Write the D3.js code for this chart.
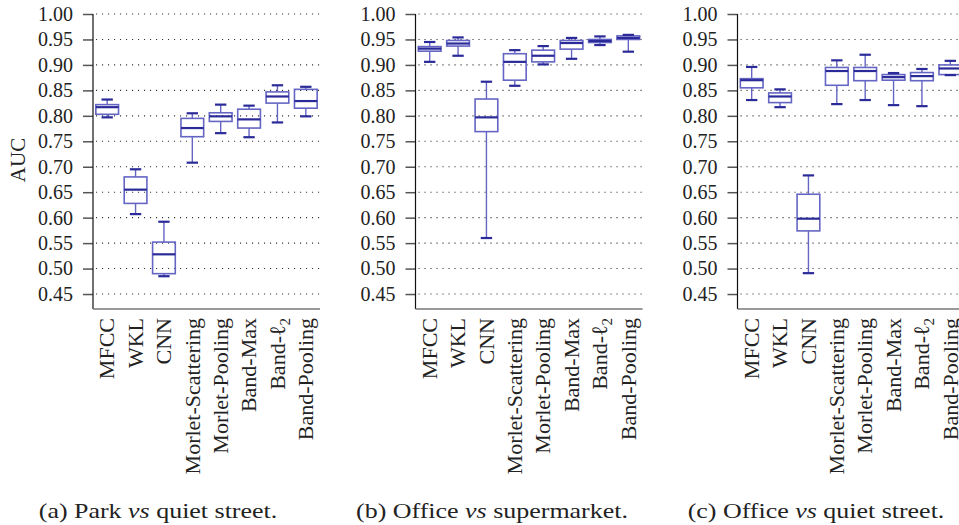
<!DOCTYPE html>
<html>
<head>
<meta charset="utf-8">
<script src="https://cdn.jsdelivr.net/npm/d3@7"></script>
<style>
  body { margin: 0; background: #fff; }
  text { font-family: "Liberation Serif", "DejaVu Serif", serif; fill: #222; }
</style>
</head>
<body>
<div class="chart"></div>
<script>
// categories on the x axis (same for all three panels)
var categories = ["MFCC", "WKL", "CNN", "Morlet-Scattering", "Morlet-Pooling", "Band-Max", "Band-l2", "Band-Pooling"];

// y tick values
var yTicks = [0.45, 0.50, 0.55, 0.60, 0.65, 0.70, 0.75, 0.80, 0.85, 0.90, 0.95, 1.00];

// box stats per category: [whisker low, q1, median, q3, whisker high]
var parkVsStreet = [
  [0.797, 0.803, 0.817, 0.822, 0.832],
  [0.607, 0.628, 0.655, 0.680, 0.695],
  [0.485, 0.490, 0.528, 0.552, 0.592],
  [0.708, 0.759, 0.776, 0.795, 0.805],
  [0.766, 0.789, 0.799, 0.806, 0.822],
  [0.758, 0.776, 0.793, 0.813, 0.820],
  [0.787, 0.825, 0.838, 0.847, 0.860],
  [0.799, 0.815, 0.829, 0.852, 0.857]
];

var officeVsSupermarket = [
  [0.906, 0.927, 0.932, 0.936, 0.945],
  [0.918, 0.937, 0.942, 0.948, 0.954],
  [0.560, 0.769, 0.797, 0.833, 0.867],
  [0.859, 0.870, 0.906, 0.922, 0.929],
  [0.901, 0.906, 0.918, 0.929, 0.937],
  [0.912, 0.931, 0.943, 0.948, 0.953],
  [0.939, 0.944, 0.947, 0.950, 0.956],
  [0.926, 0.950, 0.953, 0.957, 0.959]
];

var officeVsStreet = [
  [0.831, 0.855, 0.870, 0.873, 0.896],
  [0.817, 0.826, 0.838, 0.845, 0.852],
  [0.491, 0.574, 0.598, 0.646, 0.683],
  [0.823, 0.860, 0.888, 0.895, 0.909],
  [0.831, 0.869, 0.888, 0.895, 0.920],
  [0.821, 0.870, 0.876, 0.881, 0.884],
  [0.819, 0.869, 0.878, 0.885, 0.892],
  [0.880, 0.881, 0.893, 0.900, 0.908]
];

var captions = ["(a) Park ", "(b) Office ", "(c) Office "];
var captionEnds = [" quiet street.", " supermarket.", " quiet street."];

var svgWidth = 959;
var svgHeight = 525;

var panelLeft = [93, 415.5, 737.5];
var panelWidth = 227;
var plotTop = 14;
var plotBottom = 309;
var captionX = [158, 492, 816];

var boxColor = "#6565c4";
var darkColor = "#2a2a98";
var serif = "'Liberation Serif', 'DejaVu Serif', serif";

var svg = d3.select(".chart")
  .append("svg")
  .attr("width", svgWidth)
  .attr("height", svgHeight)
  .attr("font-family", serif);

// y scale: 0.45 tick sits ~15px above the bottom axis
var yScale = d3.scaleLinear()
  .domain([0.4206, 1.0])
  .range([plotBottom, plotTop]);

function drawPanel(data, p) {
  var x0 = panelLeft[p];

  var xScale = d3.scaleBand()
    .domain(categories)
    .range([x0, x0 + panelWidth])
    .paddingInner(0.2)
    .paddingOuter(0.1);

  var g = svg.append("g");

  // dotted grid lines
  g.selectAll(".grid")
    .data(yTicks)
    .enter()
    .append("line")
    .attr("x1", x0 + 3)
    .attr("x2", x0 + panelWidth)
    .attr("y1", d => yScale(d))
    .attr("y2", d => yScale(d))
    .attr("stroke", "#333")
    .attr("stroke-width", 1.1)
    .attr("stroke-dasharray", "1.1,4.9");

  // y axis, ticks pointing outwards
  var leftAxis = d3.axisLeft(yScale)
    .tickValues(yTicks)
    .tickFormat(d3.format(".2f"))
    .tickSize(10)
    .tickPadding(10);

  var yAxis = g.append("g")
    .attr("transform", `translate(${x0}, 0)`)
    .call(leftAxis)
    .attr("font-family", serif);

  yAxis.select(".domain").remove();
  yAxis.selectAll(".tick line")
    .attr("stroke", "#555")
    .attr("stroke-width", 1.5);
  yAxis.selectAll(".tick text")
    .attr("font-size", 20)
    .attr("fill", "#222");

  g.append("line")
    .attr("x1", x0)
    .attr("x2", x0)
    .attr("y1", plotTop)
    .attr("y2", plotBottom)
    .attr("stroke", "#111")
    .attr("stroke-width", 1.2);

  // bottom axis line
  g.append("line")
    .attr("x1", x0)
    .attr("x2", x0 + panelWidth)
    .attr("y1", plotBottom)
    .attr("y2", plotBottom)
    .attr("stroke", "#777")
    .attr("stroke-width", 1.5);

  // rotated category labels
  var labels = g.selectAll(".xlabel")
    .data(categories)
    .enter()
    .append("text")
    .attr("transform", d => `translate(${xScale(d) + xScale.bandwidth() / 2}, 318) rotate(-90)`)
    .attr("text-anchor", "end")
    .attr("dy", "0.33em")
    .attr("font-size", 22);

  labels.each(function(d) {
    var t = d3.select(this);
    if (d === "Band-l2") {
      t.append("tspan").text("Band-\u2113");
      t.append("tspan").attr("font-size", 15).attr("dy", 5).text("2");
    } else {
      t.text(d);
    }
  });

  var bw = xScale.bandwidth();
  var boxes = g.selectAll(".box")
    .data(data)
    .enter()
    .append("g")
    .attr("transform", (d, i) => `translate(${xScale(categories[i])}, 0)`);

  // whiskers
  boxes.append("line")
    .attr("x1", bw / 2).attr("x2", bw / 2)
    .attr("y1", d => yScale(d[4]))
    .attr("y2", d => yScale(d[3]))
    .attr("stroke", boxColor).attr("stroke-width", 1.4);

  boxes.append("line")
    .attr("x1", bw / 2).attr("x2", bw / 2)
    .attr("y1", d => yScale(d[1]))
    .attr("y2", d => yScale(d[0]))
    .attr("stroke", boxColor).attr("stroke-width", 1.4);

  // box q1 to q3
  boxes.append("rect")
    .attr("x", 0)
    .attr("width", bw)
    .attr("y", d => yScale(d[3]))
    .attr("height", d => yScale(d[1]) - yScale(d[3]))
    .attr("fill", "none")
    .attr("stroke", boxColor)
    .attr("stroke-width", 1.6);

  // median
  boxes.append("line")
    .attr("x1", 0).attr("x2", bw)
    .attr("y1", d => yScale(d[2]))
    .attr("y2", d => yScale(d[2]))
    .attr("stroke", darkColor).attr("stroke-width", 2.2);

  // whisker caps
  [0, 4].forEach(function(k) {
    boxes.append("line")
      .attr("x1", bw * 0.25).attr("x2", bw * 0.75)
      .attr("y1", d => yScale(d[k]))
      .attr("y2", d => yScale(d[k]))
      .attr("stroke", darkColor).attr("stroke-width", 2.2);
  });

  // caption
  var cap = svg.append("text")
    .attr("x", captionX[p])
    .attr("y", 518)
    .attr("text-anchor", "middle")
    .attr("font-size", 22)
    .attr("transform", `translate(${captionX[p]}, 0) scale(1.18, 1) translate(${-captionX[p]}, 0)`);
  cap.append("tspan").text(captions[p]);
  cap.append("tspan").attr("font-style", "italic").text("vs");
  cap.append("tspan").text(captionEnds[p]);
}

drawPanel(parkVsStreet, 0);
drawPanel(officeVsSupermarket, 1);
drawPanel(officeVsStreet, 2);

// y axis title, only on first panel
svg.append("text")
  .attr("transform", "translate(25, 160) rotate(-90)")
  .attr("text-anchor", "middle")
  .attr("font-size", 21)
  .text("AUC");
</script>
</body>
</html>
